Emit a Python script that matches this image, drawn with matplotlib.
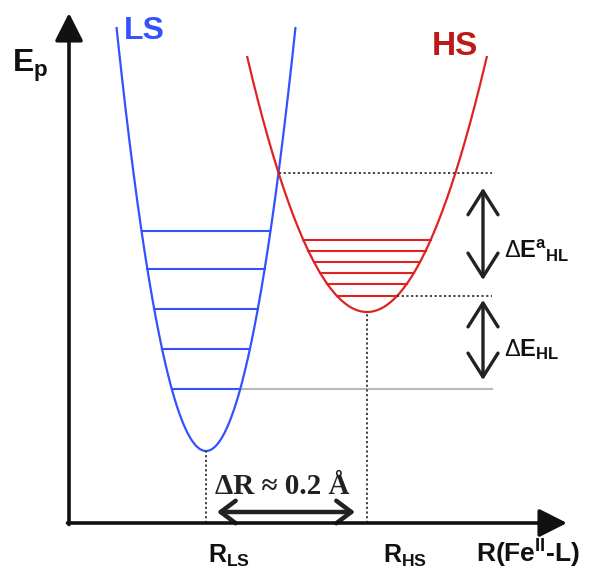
"""
Potential-energy wells for the low-spin / high-spin states of Fe(II).
Output: out.png
"""

import matplotlib
matplotlib.use("Agg")
import matplotlib.pyplot as plt
from matplotlib.patches import FancyArrowPatch
import numpy as np

# ── Palette ──────────────────────────────────────────────────────────────
BLUE   = "#3352ff"
RED    = "#e02222"
DKRED  = "#bf1818"
BLACK  = "#111111"
DOT    = "#333333"
GREY   = "#b9b9b9"

plt.rcParams.update({
    "font.family": ["Liberation Sans", "DejaVu Sans"],
    "mathtext.fontset": "custom",
    "mathtext.rm": "Liberation Sans",
    "mathtext.bf": "Liberation Sans:bold",
    "mathtext.it": "Liberation Sans:bold",
})

# ── data (diagram units: R along x, E along y) ───────────────────────────
ls_center, ls_min, ls_top, ls_k = 206, 127, 551, 0.0529
hs_center, hs_min, hs_top, hs_k = 367, 266, 522, 0.01778
ls_levels = [347, 309, 269, 229, 189]
hs_levels = [338, 327, 316, 305, 294, 282]
axis_x0, axis_y0 = 69, 55
axis_xmax, axis_ymax = 567, 565
guide_end = 492          # right end of the dotted / grey guide lines
arrow_x = 483            # x of the two energy arrows


def well(center, emin, k, e):
    """half width of a harmonic well at energy e"""
    return np.sqrt(max(e - emin, 0) / k)


# ── figure ───────────────────────────────────────────────────────────────
fig = plt.figure(figsize=(6.05, 5.78), dpi=100)
ax = fig.add_axes([0, 0, 1, 1])
ax.set_xlim(0, 605)
ax.set_ylim(0, 578)
ax.axis("off")

# wells
for c, emin, top, k, col in [(ls_center, ls_min, ls_top, ls_k, BLUE),
                             (hs_center, hs_min, hs_top, hs_k, RED)]:
    hw = well(c, emin, k, top)
    x = np.linspace(c - hw, c + hw, 400)
    ax.plot(x, emin + k * (x - c) ** 2, color=col, lw=1.6, solid_capstyle="butt")

# vibrational levels
for e in ls_levels:
    hw = well(ls_center, ls_min, ls_k, e)
    ax.plot([ls_center - hw, ls_center + hw], [e, e], color=BLUE, lw=1.5)
for e in hs_levels:
    hw = well(hs_center, hs_min, hs_k, e)
    ax.plot([hs_center - hw, hs_center + hw], [e, e], color=RED, lw=1.5)

# crossing point of LS right branch and HS left branch
xs = np.linspace(ls_center, hs_center, 4000)
diff = (ls_min + ls_k * (xs - ls_center) ** 2) - (hs_min + hs_k * (xs - hs_center) ** 2)
i = np.argmin(np.abs(diff))
x_cross = xs[i]
e_cross = ls_min + ls_k * (x_cross - ls_center) ** 2

# guide lines
dots = (0, (1.2, 1.4))
ax.plot([x_cross, guide_end], [e_cross, e_cross], color=DOT, lw=1.3, ls=dots)
hs0 = hs_levels[-1]
ax.plot([hs_center + well(hs_center, hs_min, hs_k, hs0), guide_end], [hs0, hs0],
        color=DOT, lw=1.3, ls=dots)
ls0 = ls_levels[-1]
ax.plot([ls_center + well(ls_center, ls_min, ls_k, ls0), guide_end], [ls0, ls0],
        color=GREY, lw=1.5, zorder=0)
ax.plot([ls_center, ls_center], [axis_y0, ls_min], color=DOT, lw=1.3, ls=dots)
ax.plot([hs_center, hs_center], [axis_y0, hs_min], color=DOT, lw=1.3, ls=dots)

# axes with filled heads
head = "-|>,head_length=0.95,head_width=0.48"
ax.annotate("", xy=(axis_x0, axis_ymax), xytext=(axis_x0, axis_y0 - 1.5),
            arrowprops=dict(arrowstyle=head, color=BLACK, lw=2.6,
                            mutation_scale=18, shrinkA=0, shrinkB=0))
ax.annotate("", xy=(axis_xmax, axis_y0), xytext=(axis_x0 - 1.5, axis_y0),
            arrowprops=dict(arrowstyle=head, color=BLACK, lw=2.6,
                            mutation_scale=18, shrinkA=0, shrinkB=0))

# energy arrows
for top, bot in [(e_cross - 15, hs0 + 16), (hs0 - 4, ls0 + 9)]:
    ax.add_patch(FancyArrowPatch((arrow_x, bot), (arrow_x, top),
                                 arrowstyle="<->,head_length=0.95,head_width=0.6",
                                 mutation_scale=18, lw=2.4, color="#222222",
                                 shrinkA=0, shrinkB=0))

# ΔR arrow
ax.add_patch(FancyArrowPatch((ls_center + 11, 66), (hs_center - 12, 66),
                             arrowstyle="<->,head_length=0.6,head_width=0.45",
                             mutation_scale=18, lw=3.2, color="#222222",
                             shrinkA=0, shrinkB=0))

# ── labels ───────────────────────────────────────────────────────────────
ax.text(124, 562, "LS", color=BLUE, fontsize=23, fontweight="bold",
        ha="left", va="top")
ax.text(432, 547, "HS", color=DKRED, fontsize=24, fontweight="bold",
        ha="left", va="top")
ax.text(12, 506, r"E$_{\mathbf{p}}$", color=BLACK, fontsize=23,
        fontweight="bold", ha="left", va="baseline")

ax.text(504, 320, r"$\Delta\mathbf{E}^{\mathbf{a}}{}_{\mathbf{HL}}$", color=BLACK,
        fontsize=17, ha="left", va="baseline")
ax.text(504, 222, r"$\Delta\mathbf{E}_{\mathbf{HL}}$", color=BLACK,
        fontsize=17, ha="left", va="baseline")

ax.text(282, 84, "ΔR ≈ 0.2 Å", color="#222222", fontsize=21,
        fontweight="bold", family=["Liberation Serif", "DejaVu Serif"],
        ha="center", va="baseline")

ax.text(208, 15, r"R$_{\mathbf{LS}}$", color=BLACK, fontsize=18,
        fontweight="bold", ha="left", va="baseline")
ax.text(383, 15, r"R$_{\mathbf{HS}}$", color=BLACK, fontsize=18,
        fontweight="bold", ha="left", va="baseline")
ax.text(476, 15, r"R(Fe$^{\mathbf{II}}$-L)", color=BLACK, fontsize=19,
        fontweight="bold", ha="left", va="baseline")

fig.savefig("out.png", dpi=100, facecolor="white")
